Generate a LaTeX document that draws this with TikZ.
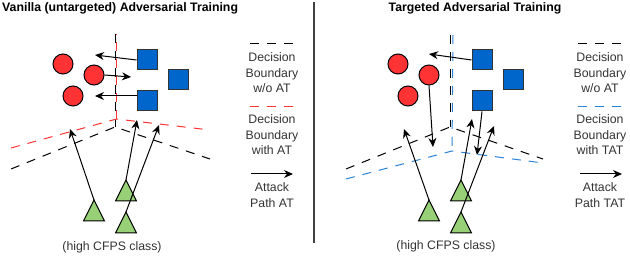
\documentclass[tikz,border=0pt]{standalone}
\usepackage{fontspec}
\setmainfont{Liberation Sans}
\usetikzlibrary{shapes.geometric, arrows.meta}
\definecolor{ptred}{HTML}{FF3333}
\definecolor{ptblue}{HTML}{0066CC}
\definecolor{ptgreen}{HTML}{97D077}
\definecolor{tatblue}{HTML}{2A83D6}
\definecolor{txtgray}{HTML}{333333}

\begin{document}
\begin{tikzpicture}[
    x=1pt, y=-1pt,
    redpt/.style={circle, draw=black, line width=1pt, fill=ptred, minimum size=20pt, inner sep=0pt},
    bluept/.style={rectangle, draw=black!80, line width=1pt, fill=ptblue, minimum size=20pt, inner sep=0pt},
    greenpt/.style={isosceles triangle, shape border rotate=90, isosceles triangle stretches, draw=black, line width=1pt, fill=ptgreen, minimum width=21pt, minimum height=21pt, inner sep=0pt, outer sep=0pt, anchor=apex},
    boundary/.style={dash pattern=on 9pt off 8pt, line width=1pt},
    arrow/.style={-{Stealth[length=9pt, width=8pt]}, line width=1pt},
    paneltitle/.style={font=\fontsize{12.3}{15}\selectfont\bfseries, inner sep=0pt},
    legendtext/.style={font=\fontsize{12.3}{15.5}\selectfont, text=txtgray, align=center, inner sep=0pt}
]
\useasboundingbox (0,0) rectangle (630,256);

% Vanilla (untargeted) panel
\node[paneltitle, anchor=base west] (vtitle) at (2,12) {Vanilla (untargeted) Adversarial Training};

% decision boundaries
\coordinate (vbtop) at (115,34);
\coordinate (vbapex) at (115,127);
\coordinate (vbleft) at (11,169);
\coordinate (vbright) at (210,159);
\coordinate (vatop) at (116.5,34);
\coordinate (vaapex) at (116.5,119);
\coordinate (valeft) at (11,148);
\coordinate (varight) at (210,130);
\draw[boundary, ptred, dash phase=8.5pt] (vatop) -- (vaapex);
\draw[boundary, black] (vbtop) -- (vbapex);
\draw[boundary, black] (vbleft) -- (vbapex) -- (vbright);
\draw[boundary, ptred] (valeft) -- (vaapex) -- (varight);

% samples
\node[redpt] (vcircA) at (63,64) {};
\node[redpt] (vcircB) at (94,75) {};
\node[redpt] (vcircC) at (73,96) {};
\node[bluept] (vsqA) at (147,60) {};
\node[bluept] (vsqB) at (178,80) {};
\node[bluept] (vsqC) at (147,101) {};
\node[greenpt] (vtriA) at (94,200) {};
\node[greenpt] (vtriB) at (126,180) {};
\node[greenpt] (vtriC) at (126,212) {};

% attack paths
\coordinate (vendA) at (95,55);
\coordinate (vendB) at (131,77);
\coordinate (vendC) at (95,96);
\coordinate (vendD) at (70,129);
\coordinate (vendE) at (137,120);
\coordinate (vendF) at (159,125);
\draw[arrow] (vsqA.west) -- (vendA);
\draw[arrow] (vcircB.east) -- (vendB);
\draw[arrow] ([yshift=5pt]vsqC.west) -- (vendC);
\draw[arrow] (vtriA.apex) -- (vendD);
\draw[arrow] (vtriB.apex) -- (vendE);
\draw[arrow] (vtriC.apex) -- (vendF);

\node[legendtext] (vcaption) at (112,247) {(high CFPS class)};

% legend
\coordinate (vlgA1) at (250,44);
\coordinate (vlgA2) at (293,44);
\coordinate (vlgB1) at (250,107);
\coordinate (vlgB2) at (293,107);
\coordinate (vlgC1) at (251,174);
\coordinate (vlgC2) at (293,174);
\draw[boundary, black] (vlgA1) -- (vlgA2);
\draw[boundary, ptred] (vlgB1) -- (vlgB2);
\draw[arrow] (vlgC1) -- (vlgC2);
\node[legendtext] (vlgtextA) at (272,73) {Decision\\Boundary\\w/o AT};
\node[legendtext] (vlgtextB) at (272,135) {Decision\\Boundary\\with AT};
\node[legendtext] (vlgtextC) at (272,195) {Attack\\Path AT};

% separator
\coordinate (septop) at (314,2);
\coordinate (sepbot) at (314,243);
\draw[line width=1.2pt, black!75] (septop) -- (sepbot);

% Targeted panel
\node[paneltitle, anchor=base] (ttitle) at (475,12) {Targeted Adversarial Training};

% decision boundaries
\coordinate (tbtop) at (450,35);
\coordinate (tbapex) at (450,127);
\coordinate (tbleft) at (346,169);
\coordinate (tbright) at (543,159);
\coordinate (tatop) at (453,35);
\coordinate (taapex) at (452,151);
\coordinate (taleft) at (346,179);
\coordinate (taright) at (543,163);
\draw[boundary, black] (tbtop) -- (tbapex);
\draw[boundary, black] (tbleft) -- (tbapex) -- (tbright);
\draw[boundary, tatblue] (tatop) -- (taapex);
\draw[boundary, tatblue] (taleft) -- (taapex) -- (taright);

% samples
\node[redpt] (tcircA) at (398,64) {};
\node[redpt] (tcircB) at (429,75) {};
\node[redpt] (tcircC) at (408,96) {};
\node[bluept] (tsqA) at (482,60) {};
\node[bluept] (tsqB) at (513,80) {};
\node[bluept] (tsqC) at (482,101) {};
\node[greenpt] (ttriA) at (429,200) {};
\node[greenpt] (ttriB) at (461,180) {};
\node[greenpt] (ttriC) at (461,212) {};

% attack paths
\coordinate (tendA) at (429,54);
\coordinate (tendB) at (433,147);
\coordinate (tendC) at (477,155);
\coordinate (tendD) at (404,129);
\coordinate (tendE) at (472,119);
\coordinate (tendF) at (494,126);
\draw[arrow] (tsqA.west) -- (tendA);
\draw[arrow] (tcircB.south) -- (tendB);
\draw[arrow] (tsqC.south) -- (tendC);
\draw[arrow] (ttriA.apex) -- (tendD);
\draw[arrow] (ttriB.apex) -- (tendE);
\draw[arrow] (ttriC.apex) -- (tendF);

\node[legendtext] (tcaption) at (446,246) {(high CFPS class)};

% legend
\coordinate (tlgA1) at (578,44);
\coordinate (tlgA2) at (622,44);
\coordinate (tlgB1) at (578,107);
\coordinate (tlgB2) at (622,107);
\coordinate (tlgC1) at (580,174);
\coordinate (tlgC2) at (622,174);
\draw[boundary, black] (tlgA1) -- (tlgA2);
\draw[boundary, tatblue] (tlgB1) -- (tlgB2);
\draw[arrow] (tlgC1) -- (tlgC2);
\node[legendtext] (tlgtextA) at (600,73) {Decision\\Boundary\\w/o AT};
\node[legendtext] (tlgtextB) at (600,135) {Decision\\Boundary\\with TAT};
\node[legendtext] (tlgtextC) at (600,195) {Attack\\Path TAT};

\end{tikzpicture}
\end{document}
